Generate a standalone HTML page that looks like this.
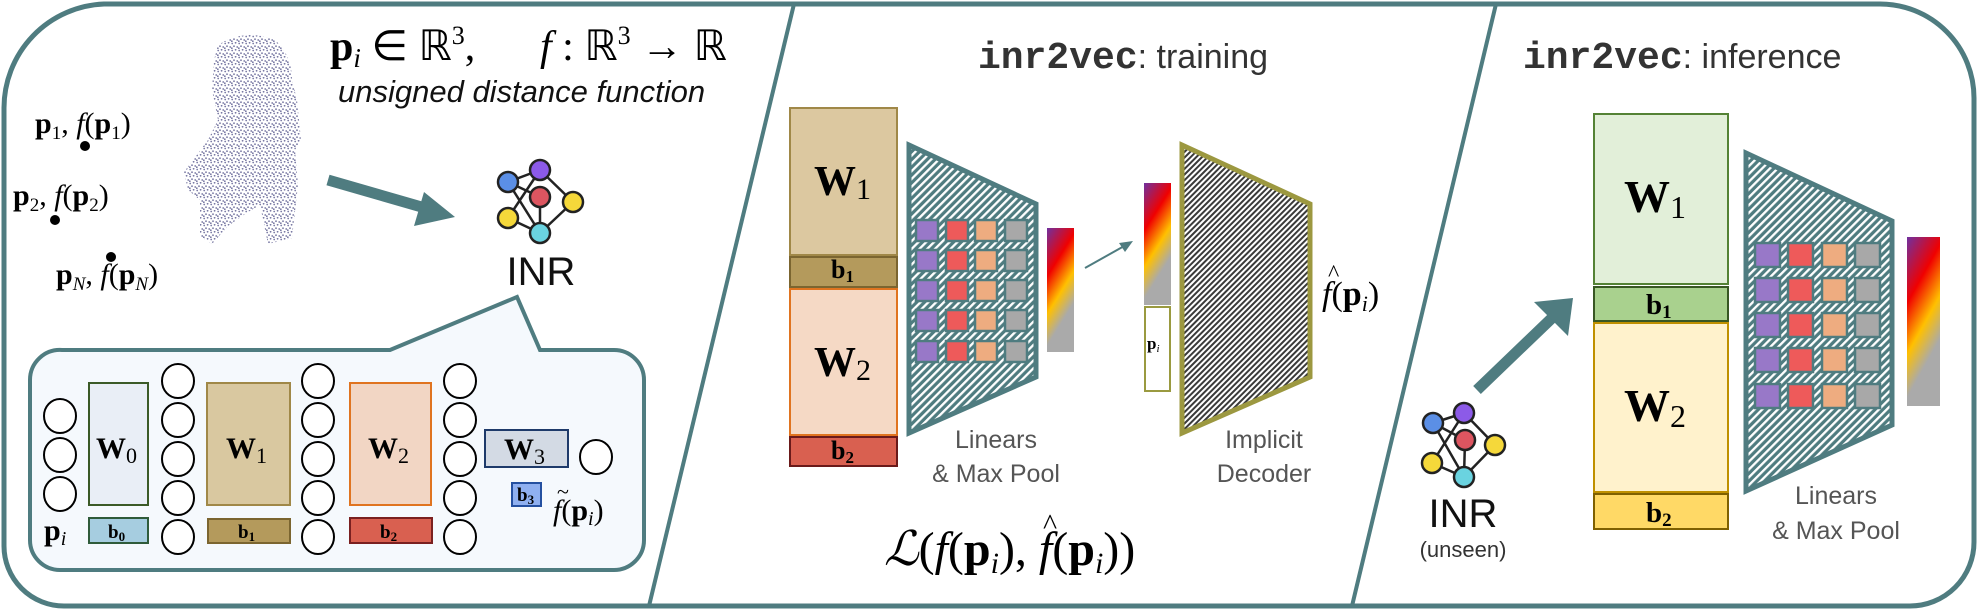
<!DOCTYPE html>
<html><head><meta charset="utf-8"><style>
html,body{margin:0;padding:0;background:#fff;}
svg{display:block;}
.s{font-family:"Liberation Serif",serif;}
.g{font-family:"Liberation Sans","DejaVu Sans",sans-serif;fill:#555;}
</style></head><body>
<svg width="1978" height="610" viewBox="0 0 1978 610" xmlns="http://www.w3.org/2000/svg">
<defs>
<pattern id="ht" width="5.5" height="5.5" patternUnits="userSpaceOnUse" patternTransform="rotate(45)">
<rect width="5.5" height="5.5" fill="#4f7c80"/><rect width="2.3" height="5.5" fill="#fff"/></pattern>
<pattern id="hd" width="4" height="4" patternUnits="userSpaceOnUse" patternTransform="rotate(45)">
<rect width="4" height="4" fill="#fff"/><rect width="2" height="4" fill="#3a3a3a"/></pattern>
<pattern id="dots" width="7" height="7" patternUnits="userSpaceOnUse">
<circle cx="1.2" cy="1.5" r="0.9" fill="#4e4e86"/><circle cx="4.6" cy="0.8" r="0.9" fill="#4e4e86"/><circle cx="3" cy="4.2" r="0.9" fill="#4e4e86"/><circle cx="6.2" cy="5" r="0.9" fill="#4e4e86"/><circle cx="0.8" cy="6.2" r="0.9" fill="#4e4e86"/></pattern>
<linearGradient id="gr" x1="0" y1="0" x2="0.35" y2="1">
<stop offset="0" stop-color="#7030a0"/><stop offset="0.35" stop-color="#f00000"/><stop offset="0.62" stop-color="#ffc000"/><stop offset="0.85" stop-color="#aaaaaa"/><stop offset="1" stop-color="#aaaaaa"/></linearGradient>
</defs>

<path d="M104,4 H1880 A94,94 0 0 1 1974,98 V542 A64,64 0 0 1 1910,606 H64 A60,60 0 0 1 4,546 V108 A104,104 0 0 1 104,4 Z" fill="#fff" stroke="#4f7c80" stroke-width="5"/>
<line x1="794" y1="4" x2="649" y2="606" stroke="#4f7c80" stroke-width="4"/>
<line x1="1496" y1="4" x2="1352" y2="606" stroke="#4f7c80" stroke-width="4"/>

<path d="M218,45 Q245,28 275,40 Q292,55 292,80 L297,100 L301,140 L295,150 L298,185 L292,238 L268,244 L260,205 L248,212 L228,226 L212,244 L200,236 L200,200 L188,190 L184,172 L208,140 L218,120 L212,90 L214,60 Z" fill="url(#dots)" opacity="0.75"/>

<text class="s" x="330" y="60" font-size="42"><tspan font-weight="bold">p</tspan><tspan font-style="italic" font-size="27" dy="7">i</tspan><tspan dy="-7"> ∈ ℝ</tspan><tspan font-size="26" dy="-16">3</tspan><tspan dy="16">,</tspan></text>
<text class="s" x="540" y="60" font-size="42"><tspan font-style="italic">f</tspan> : ℝ<tspan font-size="26" dy="-16">3</tspan><tspan dy="16"> → ℝ</tspan></text>
<text x="338" y="102" font-family="Liberation Sans,sans-serif" font-style="italic" font-size="31" fill="#111">unsigned distance function</text>

<text class="s" x="35" y="133" font-size="30"><tspan font-weight="bold">p</tspan><tspan font-size="19" dy="6">1</tspan><tspan dy="-6">, </tspan><tspan font-style="italic">f</tspan>(<tspan font-weight="bold">p</tspan><tspan font-size="19" dy="6">1</tspan><tspan dy="-6">)</tspan></text>
<circle cx="85" cy="146" r="5" fill="#000"/>
<text class="s" x="13" y="205" font-size="30"><tspan font-weight="bold">p</tspan><tspan font-size="19" dy="6">2</tspan><tspan dy="-6">, </tspan><tspan font-style="italic">f</tspan>(<tspan font-weight="bold">p</tspan><tspan font-size="19" dy="6">2</tspan><tspan dy="-6">)</tspan></text>
<circle cx="55" cy="220" r="5" fill="#000"/>
<text class="s" x="56" y="284" font-size="30"><tspan font-weight="bold">p</tspan><tspan font-size="19" font-style="italic" dy="6">N</tspan><tspan dy="-6">, </tspan><tspan font-style="italic">f</tspan>(<tspan font-weight="bold">p</tspan><tspan font-size="19" font-style="italic" dy="6">N</tspan><tspan dy="-6">)</tspan></text>
<circle cx="111" cy="257" r="5" fill="#000"/>

<line x1="328" y1="180" x2="432" y2="210" stroke="#4f7c80" stroke-width="11"/>
<polygon points="455,217 424,192 414,226" fill="#4f7c80"/>

<g stroke="#222" stroke-width="2.5">
<line x1="508" y1="182" x2="540" y2="170"/><line x1="508" y1="182" x2="540" y2="197"/><line x1="508" y1="182" x2="540" y2="233"/>
<line x1="540" y1="170" x2="573" y2="202"/><line x1="540" y1="170" x2="508" y2="218"/>
<line x1="540" y1="197" x2="540" y2="233"/><line x1="573" y1="202" x2="540" y2="233"/><line x1="508" y1="218" x2="540" y2="233"/>
<circle cx="508" cy="182" r="10" fill="#5b8fe6"/><circle cx="540" cy="170" r="10" fill="#8c5ae8"/><circle cx="540" cy="197" r="10" fill="#dd5560"/>
<circle cx="573" cy="202" r="10" fill="#f5d83a"/><circle cx="508" cy="218" r="10" fill="#f5d83a"/><circle cx="540" cy="233" r="10" fill="#6ad3e0"/>
</g>
<text x="541" y="285" text-anchor="middle" font-family="Liberation Sans,sans-serif" font-size="40" fill="#111">INR</text>

<path d="M62,350 H390 L517,297 L540,350 H614 A30,30 0 0 1 644,380 V540 A30,30 0 0 1 614,570 H60 A30,30 0 0 1 30,540 V380 A30,30 0 0 1 62,350 Z" fill="#f5f9fd" stroke="#4f7c80" stroke-width="4"/>
<g fill="#fff" stroke="#000" stroke-width="2">
<ellipse cx="60" cy="416" rx="16" ry="17"/><ellipse cx="60" cy="455" rx="16" ry="17"/><ellipse cx="60" cy="494" rx="16" ry="17"/>
<ellipse cx="178" cy="381" rx="16" ry="17"/><ellipse cx="178" cy="420" rx="16" ry="17"/><ellipse cx="178" cy="459" rx="16" ry="17"/><ellipse cx="178" cy="498" rx="16" ry="17"/><ellipse cx="178" cy="537" rx="16" ry="17"/>
<ellipse cx="318" cy="381" rx="16" ry="17"/><ellipse cx="318" cy="420" rx="16" ry="17"/><ellipse cx="318" cy="459" rx="16" ry="17"/><ellipse cx="318" cy="498" rx="16" ry="17"/><ellipse cx="318" cy="537" rx="16" ry="17"/>
<ellipse cx="460" cy="381" rx="16" ry="17"/><ellipse cx="460" cy="420" rx="16" ry="17"/><ellipse cx="460" cy="459" rx="16" ry="17"/><ellipse cx="460" cy="498" rx="16" ry="17"/><ellipse cx="460" cy="537" rx="16" ry="17"/>
<ellipse cx="596" cy="457" rx="16" ry="17"/>
</g>
<rect x="89" y="383" width="59" height="122" fill="#e9eef6" stroke="#3b5a27" stroke-width="2"/>
<rect x="89" y="518" width="59" height="25" fill="#a6cde0" stroke="#2f5b3a" stroke-width="2"/>
<rect x="207" y="383" width="83" height="122" fill="#d9c8a0" stroke="#a08848" stroke-width="2"/>
<rect x="208" y="519" width="82" height="24" fill="#b49a5c" stroke="#7b6530" stroke-width="2"/>
<rect x="350" y="383" width="81" height="122" fill="#f2d6c4" stroke="#e07420" stroke-width="2"/>
<rect x="350" y="518" width="82" height="25" fill="#d96050" stroke="#7a2020" stroke-width="2"/>
<rect x="485" y="430" width="83" height="37" fill="#d3dae4" stroke="#1e3a6a" stroke-width="2"/>
<rect x="512" y="483" width="29" height="23" fill="#8fb0f0" stroke="#2450a0" stroke-width="2"/>
<g class="s" font-size="30" font-weight="bold">
<text x="96" y="458">W<tspan font-weight="normal" font-size="22" dy="5">0</tspan></text>
<text x="226" y="458">W<tspan font-weight="normal" font-size="22" dy="5">1</tspan></text>
<text x="368" y="458">W<tspan font-weight="normal" font-size="22" dy="5">2</tspan></text>
<text x="504" y="459">W<tspan font-weight="normal" font-size="22" dy="5">3</tspan></text>
</g>
<g class="s" font-size="19" font-weight="bold">
<text x="108" y="538">b<tspan font-size="13" dy="3">0</tspan></text>
<text x="238" y="538">b<tspan font-size="13" dy="3">1</tspan></text>
<text x="380" y="538">b<tspan font-size="13" dy="3">2</tspan></text>
<text x="517" y="501">b<tspan font-size="13" dy="3">3</tspan></text>
</g>
<text class="s" x="44" y="540" font-size="30"><tspan font-weight="bold">p</tspan><tspan font-style="italic" font-size="20" dy="5">i</tspan></text>
<text class="s" x="553" y="520" font-size="30"><tspan font-style="italic">f</tspan>(<tspan font-weight="bold">p</tspan><tspan font-style="italic" font-size="20" dy="5">i</tspan><tspan dy="-5">)</tspan></text>
<text class="s" x="557" y="499" font-size="22">~</text>

<text x="978" y="68" font-size="38" fill="#333"><tspan font-family="Liberation Mono,monospace" font-weight="bold">inr2vec</tspan><tspan font-family="Liberation Sans,sans-serif" font-size="34">: training</tspan></text>

<rect x="790" y="108" width="107" height="147" fill="#dcc8a0" stroke="#a08848" stroke-width="2"/>
<rect x="790" y="257" width="107" height="30" fill="#b49a5c" stroke="#7b6530" stroke-width="2"/>
<rect x="790" y="289" width="107" height="146" fill="#f5d9c5" stroke="#e07420" stroke-width="2"/>
<rect x="790" y="437" width="107" height="29" fill="#d96050" stroke="#6a1a1a" stroke-width="2"/>
<g class="s" font-weight="bold" font-size="42">
<text x="814" y="195">W<tspan font-weight="normal" font-size="30" dy="4">1</tspan></text>
<text x="814" y="376">W<tspan font-weight="normal" font-size="30" dy="4">2</tspan></text>
</g>
<g class="s" font-weight="bold" font-size="26">
<text x="831" y="278">b<tspan font-size="17" dy="4">1</tspan></text>
<text x="831" y="459">b<tspan font-size="17" dy="4">2</tspan></text>
</g>

<polygon points="909,145 1036,204 1036,377 909,433" fill="url(#ht)" stroke="#4f7c80" stroke-width="5"/>
<g stroke="#4f7c80" stroke-width="2.5">
<g fill="#9878c8"><rect x="916" y="220" width="22" height="21"/><rect x="916" y="250" width="22" height="21"/><rect x="916" y="280" width="22" height="21"/><rect x="916" y="310" width="22" height="21"/><rect x="916" y="341" width="22" height="21"/></g>
<g fill="#ee5a5a"><rect x="946" y="220" width="22" height="21"/><rect x="946" y="250" width="22" height="21"/><rect x="946" y="280" width="22" height="21"/><rect x="946" y="310" width="22" height="21"/><rect x="946" y="341" width="22" height="21"/></g>
<g fill="#eeac80"><rect x="975" y="220" width="22" height="21"/><rect x="975" y="250" width="22" height="21"/><rect x="975" y="280" width="22" height="21"/><rect x="975" y="310" width="22" height="21"/><rect x="975" y="341" width="22" height="21"/></g>
<g fill="#a8a8a8"><rect x="1005" y="220" width="22" height="21"/><rect x="1005" y="250" width="22" height="21"/><rect x="1005" y="280" width="22" height="21"/><rect x="1005" y="310" width="22" height="21"/><rect x="1005" y="341" width="22" height="21"/></g>
</g>
<rect x="1047" y="228" width="27" height="124" fill="url(#gr)"/>
<line x1="1085" y1="268" x2="1126" y2="245" stroke="#4f7c80" stroke-width="2"/>
<polygon points="1133,241 1119,243 1125,252" fill="#4f7c80"/>
<rect x="1144" y="183" width="27" height="122" fill="url(#gr)"/>
<rect x="1145" y="307" width="25" height="84" fill="#fff" stroke="#9a9a40" stroke-width="2"/>
<text class="s" x="1147" y="349" font-size="17"><tspan font-weight="bold">p</tspan><tspan font-style="italic" font-size="11" dy="3">i</tspan></text>

<polygon points="1182,145 1310,204 1310,377 1182,433" fill="url(#hd)" stroke="#9c9840" stroke-width="5"/>
<text class="s" x="1322" y="305" font-size="34"><tspan font-style="italic">f</tspan>(<tspan font-weight="bold">p</tspan><tspan font-style="italic" font-size="22" dy="6">i</tspan><tspan dy="-6">)</tspan></text>
<text class="s" x="1328" y="281" font-size="24">^</text>

<text class="g" x="996" y="448" font-size="25" text-anchor="middle">Linears</text>
<text class="g" x="996" y="482" font-size="25" text-anchor="middle">&amp; Max Pool</text>
<text class="g" x="1264" y="448" font-size="25" text-anchor="middle">Implicit</text>
<text class="g" x="1264" y="482" font-size="25" text-anchor="middle">Decoder</text>

<text class="s" x="884" y="565" font-size="48"><tspan font-style="italic">ℒ</tspan>(<tspan font-style="italic">f</tspan>(<tspan font-weight="bold">p</tspan><tspan font-style="italic" font-size="30" dy="8">i</tspan><tspan dy="-8">), </tspan><tspan font-style="italic">f</tspan>(<tspan font-weight="bold">p</tspan><tspan font-style="italic" font-size="30" dy="8">i</tspan><tspan dy="-8">))</tspan></text>
<text class="s" x="1043" y="534" font-size="30">^</text>

<text x="1523" y="68" font-size="38" fill="#333"><tspan font-family="Liberation Mono,monospace" font-weight="bold">inr2vec</tspan><tspan font-family="Liberation Sans,sans-serif" font-size="34">: inference</tspan></text>

<rect x="1594" y="114" width="134" height="170" fill="#e2efd9" stroke="#548235" stroke-width="2"/>
<rect x="1594" y="287" width="134" height="34" fill="#a9d18e" stroke="#385723" stroke-width="2"/>
<rect x="1594" y="323" width="134" height="169" fill="#fff2cc" stroke="#bf9000" stroke-width="2"/>
<rect x="1594" y="494" width="134" height="35" fill="#ffd966" stroke="#7f6000" stroke-width="2"/>
<g class="s" font-weight="bold" font-size="46">
<text x="1624" y="212">W<tspan font-weight="normal" font-size="32" dy="6">1</tspan></text>
<text x="1624" y="421">W<tspan font-weight="normal" font-size="32" dy="6">2</tspan></text>
</g>
<g class="s" font-weight="bold" font-size="29">
<text x="1646" y="314">b<tspan font-size="19" dy="4">1</tspan></text>
<text x="1646" y="522">b<tspan font-size="19" dy="4">2</tspan></text>
</g>

<polygon points="1746,153 1892,221 1892,425 1746,491" fill="url(#ht)" stroke="#4f7c80" stroke-width="5"/>
<g stroke="#4f7c80" stroke-width="2.5">
<g fill="#9878c8"><rect x="1755" y="243" width="25" height="24"/><rect x="1755" y="278" width="25" height="24"/><rect x="1755" y="313" width="25" height="24"/><rect x="1755" y="348" width="25" height="24"/><rect x="1755" y="384" width="25" height="24"/></g>
<g fill="#ee5a5a"><rect x="1788" y="243" width="25" height="24"/><rect x="1788" y="278" width="25" height="24"/><rect x="1788" y="313" width="25" height="24"/><rect x="1788" y="348" width="25" height="24"/><rect x="1788" y="384" width="25" height="24"/></g>
<g fill="#eeac80"><rect x="1822" y="243" width="25" height="24"/><rect x="1822" y="278" width="25" height="24"/><rect x="1822" y="313" width="25" height="24"/><rect x="1822" y="348" width="25" height="24"/><rect x="1822" y="384" width="25" height="24"/></g>
<g fill="#a8a8a8"><rect x="1855" y="243" width="25" height="24"/><rect x="1855" y="278" width="25" height="24"/><rect x="1855" y="313" width="25" height="24"/><rect x="1855" y="348" width="25" height="24"/><rect x="1855" y="384" width="25" height="24"/></g>
</g>
<rect x="1907" y="237" width="33" height="169" fill="url(#gr)"/>
<text class="g" x="1836" y="504" font-size="25" text-anchor="middle">Linears</text>
<text class="g" x="1836" y="539" font-size="25" text-anchor="middle">&amp; Max Pool</text>

<line x1="1477" y1="390" x2="1552" y2="318" stroke="#4f7c80" stroke-width="11"/>
<polygon points="1573,298 1534,302 1568,336" fill="#4f7c80"/>

<g stroke="#222" stroke-width="2.5">
<line x1="1433" y1="423" x2="1464" y2="413"/><line x1="1433" y1="423" x2="1465" y2="440"/><line x1="1433" y1="423" x2="1464" y2="477"/>
<line x1="1464" y1="413" x2="1495" y2="445"/><line x1="1464" y1="413" x2="1432" y2="463"/>
<line x1="1465" y1="440" x2="1464" y2="477"/><line x1="1495" y1="445" x2="1464" y2="477"/><line x1="1432" y1="463" x2="1464" y2="477"/>
<circle cx="1433" cy="423" r="10" fill="#5b8fe6"/><circle cx="1464" cy="413" r="10" fill="#8c5ae8"/><circle cx="1465" cy="440" r="10" fill="#dd5560"/>
<circle cx="1495" cy="445" r="10" fill="#f5d83a"/><circle cx="1432" cy="463" r="10" fill="#f5d83a"/><circle cx="1464" cy="477" r="10" fill="#6ad3e0"/>
</g>
<text x="1463" y="527" text-anchor="middle" font-family="Liberation Sans,sans-serif" font-size="40" fill="#111">INR</text>
<text x="1463" y="557" text-anchor="middle" font-family="Liberation Sans,sans-serif" font-size="22" fill="#333">(unseen)</text>
</svg>
</body></html>
